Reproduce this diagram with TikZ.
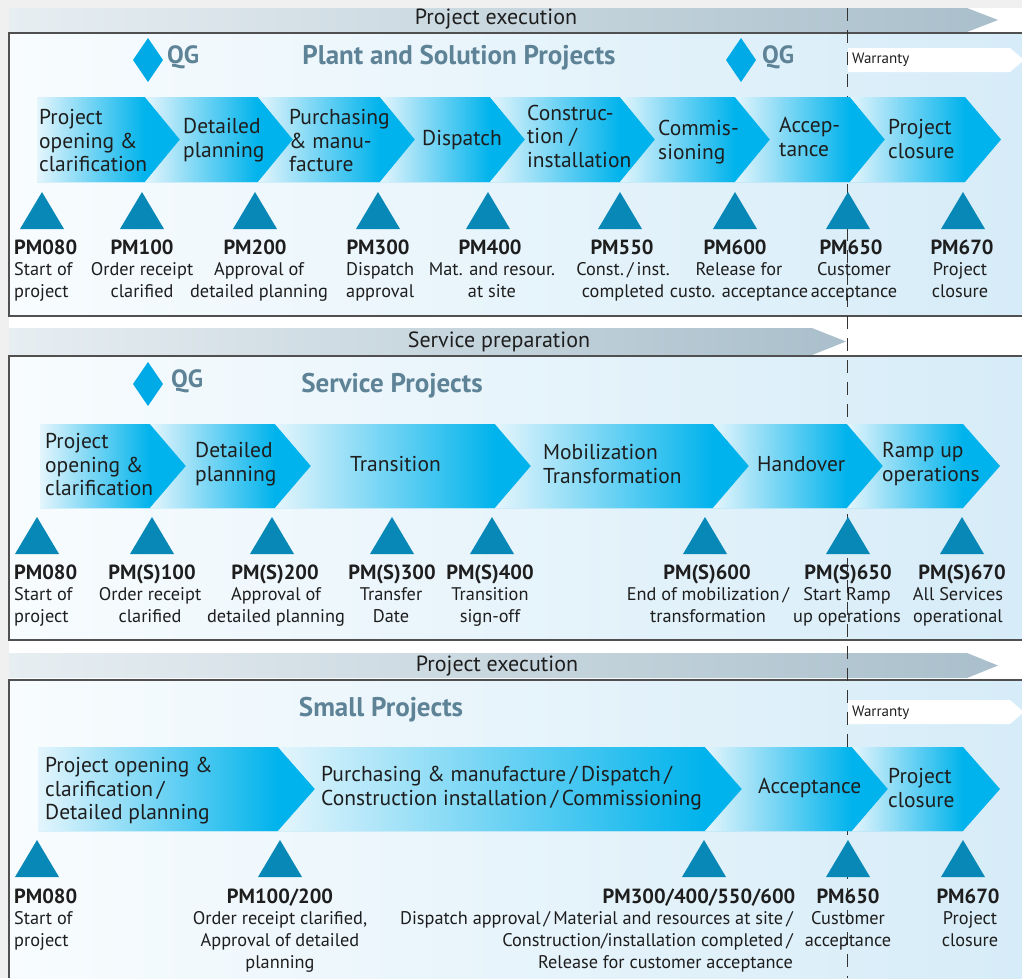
\documentclass[tikz,border=0pt]{standalone}
\usepackage{fontspec}
\setmainfont{PT Sans}
\usetikzlibrary{calc}
\definecolor{cyanA}{HTML}{00B3EC}
\definecolor{cyanL}{HTML}{E4F5FC}
\definecolor{cyanM}{HTML}{C4E9F9}
\definecolor{triC}{HTML}{0888B7}
\definecolor{diaC}{HTML}{00AAE7}
\definecolor{titleC}{HTML}{5E8397}
\definecolor{bgL}{HTML}{F8FCFE}
\definecolor{bgR}{HTML}{D6ECF8}
\definecolor{banL}{HTML}{E7EEF2}
\definecolor{banR}{HTML}{A9BFCB}
\definecolor{frameC}{HTML}{505050}
\definecolor{pageC}{HTML}{F0F0F0}
\definecolor{txtC}{HTML}{1E1E1E}
\tikzset{
 chevtext/.style={anchor=west, align=left, inner sep=0, font=\fontsize{21.5}{23.5}\selectfont, text=txtC},
 pmlabel/.style={inner sep=0, anchor=base, font=\bfseries\fontsize{20.5}{22}\selectfont, text=txtC},
 desc/.style={inner sep=0, anchor=north, align=center, font=\fontsize{18.3}{22}\selectfont, text=txtC},
 qgtext/.style={anchor=west, inner sep=0, font=\bfseries\fontsize{25}{26}\selectfont, text=titleC},
 titletext/.style={inner sep=0, font=\bfseries\fontsize{27}{28}\selectfont, text=titleC},
 bantext/.style={inner sep=0, font=\fontsize{22}{24}\selectfont, text=txtC},
 warrtext/.style={anchor=west, inner sep=0, font=\fontsize{15}{16}\selectfont, text=txtC},
 frameline/.style={draw=frameC, line width=1.3pt},
 dashline/.style={draw=black!80, line width=0.9pt, dash pattern=on 13pt off 9pt},
}
% chevron: x0, x1 (body end), ytop, ybot, notch depth, tip depth
\newcommand\mychev[6]{%
 \pgfmathsetmacro\cmid{(#3+#4)/2}%
 \begin{scope}
 \clip (#1,#3) -- (#2,#3) -- (#2+#6,\cmid) -- (#2,#4) -- (#1,#4) -- (#1+#5,\cmid) -- cycle;
 \fill[cyanA] (#1-1,#3-1) rectangle (#2+#6+1,#4+1);
 \shade[left color=cyanL, middle color=cyanM, right color=cyanA] (#1,#3-1) rectangle (#2,#4+1);
 \end{scope}}
% triangle: x centre, apex y
\newcommand\mytri[2]{\fill[triC] (#1,#2) -- (#1+22,#2+37) -- (#1-22,#2+37) -- cycle;}
% diamond: x centre, y centre
\newcommand\mydia[2]{\fill[diaC] (#1,#2-22) -- (#1+15,#2) -- (#1,#2+22) -- (#1-15,#2) -- cycle;}
% banner: ytop, ybot, body end, tip
\newcommand\myban[4]{%
 \pgfmathsetmacro\bmid{(#1+#2)/2}%
 \shade[left color=banL, right color=banR] (9,#1) -- (#3,#1) -- (#4,\bmid) -- (#3,#2) -- (9,#2) -- cycle;}
% warranty arrow: ytop, ybot
\newcommand\mywarr[2]{%
 \pgfmathsetmacro\wmid{(#1+#2)/2}%
 \fill[white] (848,#1) -- (1010,#1) -- (1024,\wmid) -- (1010,#2) -- (848,#2) -- cycle;}
\begin{document}
\begin{tikzpicture}[x=1pt,y=-1pt]
\useasboundingbox (0,0) rectangle (1022,978);
\fill[white] (0,0) rectangle (1022,978);
\fill[pageC] (0,0) rectangle (1022,8);
\fill[pageC] (0,0) rectangle (9,978);
% ---------- section 1 ----------
\myban{8}{32}{967}{998}
\shade[left color=bgL, right color=bgR] (9,33) rectangle (1022,316);
\draw[frameline] (1022,33) -- (9,33) -- (9,316) -- (1022,316);
% ---------- section 2 ----------
\myban{328}{355}{812}{846}
\shade[left color=bgL, right color=bgR] (9,356) rectangle (1022,640);
\draw[frameline] (1022,356) -- (9,356) -- (9,640) -- (1022,640);
% ---------- section 3 ----------
\myban{653}{678}{967}{998}
\shade[left color=bgL, right color=bgR] (9,680) rectangle (1022,978);
\draw[frameline] (1022,680) -- (9,680) -- (9,978);
% warranty arrows
\mywarr{48}{72}
\mywarr{700}{724}
% dashed boundary
\coordinate (dtop) at (847,8);
\coordinate (dbot) at (847,978);
\draw[dashline] (dtop) -- (dbot);
% banner texts
\node[bantext] (ban1) at (496,19) {Project execution};
\node[bantext] (ban2) at (499,342) {Service preparation};
\node[bantext] (ban3) at (497,666) {Project execution};
\node[warrtext] (w1) at (852,60) {Warranty};
\node[warrtext] (w3) at (852,713) {Warranty};
% titles and QG
\mydia{148}{60}
\node[qgtext] (qg1) at (167,57) {QG};
\mydia{741}{60}
\node[qgtext] (qg2) at (762,57) {QG};
\node[titletext] (t1) at (459,58) {Plant and Solution Projects};
\mydia{148}{384}
\node[qgtext] (qg3) at (171,381) {QG};
\node[titletext] (t2) at (392,386) {Service Projects};
\node[titletext] (t3) at (381,710) {Small Projects};
% ---------- chevrons section 1 ----------
\mychev{37}{145}{97}{182}{0}{35}
\mychev{145}{258}{97}{182}{35}{35}
\mychev{258}{380}{97}{182}{35}{35}
\mychev{380}{490}{97}{182}{35}{35}
\mychev{490}{620}{97}{182}{35}{35}
\mychev{620}{735}{97}{182}{35}{35}
\mychev{735}{850}{97}{182}{35}{35}
\mychev{850}{965}{97}{182}{35}{36}
\node[chevtext] (c1a) at (39,141) {Project\\opening \&\\clarification};
\node[chevtext] (c1b) at (183,140) {Detailed\\planning};
\node[chevtext] (c1c) at (289,141) {Purchasing\\\& manu-\\facture};
\node[chevtext] (c1d) at (422,140) {Dispatch};
\node[chevtext] (c1e) at (527,136) {Construc-\\tion /\\installation};
\node[chevtext] (c1f) at (658,142) {Commis-\\sioning};
\node[chevtext] (c1g) at (779,137) {Accep-\\tance};
\node[chevtext] (c1h) at (888,139) {Project\\closure};
% milestones section 1
\mytri{42}{192}\mytri{142}{192}\mytri{255}{192}\mytri{378}{192}\mytri{488}{192}
\mytri{620}{192}\mytri{735}{192}\mytri{848}{192}\mytri{963}{192}
\node[pmlabel, anchor=base west] (p1a) at (14,254) {PM080};
\node[pmlabel] (p1b) at (142,254) {PM100};
\node[pmlabel] (p1c) at (255,254) {PM200};
\node[pmlabel] (p1d) at (378,254) {PM300};
\node[pmlabel] (p1e) at (490,254) {PM400};
\node[pmlabel] (p1f) at (622,254) {PM550};
\node[pmlabel] (p1g) at (735,254) {PM600};
\node[pmlabel] (p1h) at (851,254) {PM650};
\node[pmlabel] (p1i) at (962,254) {PM670};
\node[desc, anchor=north west, align=left] (d1a) at (14,262) {Start of\\project};
\node[desc] (d1b) at (142,262) {Order receipt\\clarified};
\node[desc] (d1c) at (259,262) {Approval of\\detailed planning};
\node[desc, anchor=north west, align=left] (d1d) at (346,262) {Dispatch\\approval};
\node[desc] (d1e) at (492,262) {Mat. and resour.\\at site};
\node[desc] (d1f) at (623,262) {Const.\,/\,inst.\\completed};
\node[desc] (d1g) at (739,262) {Release for\\custo. acceptance};
\node[desc] (d1h) at (854,262) {Customer\\acceptance};
\node[desc] (d1i) at (960,262) {Project\\closure};
% ---------- chevrons section 2 ----------
\mychev{40}{150}{424}{508}{0}{36}
\mychev{150}{275}{424}{508}{36}{36}
\mychev{275}{495}{424}{508}{36}{36}
\mychev{495}{713}{424}{508}{36}{36}
\mychev{713}{847}{424}{508}{36}{36}
\mychev{847}{963}{424}{508}{36}{37}
\node[chevtext] (c2a) at (45,465) {Project\\opening \&\\clarification};
\node[chevtext] (c2b) at (195,464) {Detailed\\planning};
\node[chevtext] (c2c) at (350,464) {Transition};
\node[chevtext] (c2d) at (543,464) {Mobilization\\Transformation};
\node[chevtext] (c2e) at (757,464) {Handover};
\node[chevtext] (c2f) at (882,464) {Ramp up\\operations};
\mytri{37}{517}\mytri{152}{517}\mytri{272}{517}\mytri{392}{517}\mytri{492}{517}
\mytri{705}{517}\mytri{848}{517}\mytri{962}{517}
\node[pmlabel, anchor=base west] (p2a) at (14,579) {PM080};
\node[pmlabel] (p2b) at (152,579) {PM(S)100};
\node[pmlabel] (p2c) at (275,579) {PM(S)200};
\node[pmlabel] (p2d) at (392,579) {PM(S)300};
\node[pmlabel] (p2e) at (490,579) {PM(S)400};
\node[pmlabel] (p2f) at (707,579) {PM(S)600};
\node[pmlabel] (p2g) at (848,579) {PM(S)650};
\node[pmlabel] (p2h) at (962,579) {PM(S)670};
\node[desc, anchor=north west, align=left] (d2a) at (14,587) {Start of\\project};
\node[desc] (d2b) at (150,587) {Order receipt\\clarified};
\node[desc] (d2c) at (276,587) {Approval of\\detailed planning};
\node[desc] (d2d) at (391,587) {Transfer\\Date};
\node[desc] (d2e) at (490,587) {Transition\\sign-off};
\node[desc] (d2f) at (708,587) {End of mobilization\,/\\transformation};
\node[desc] (d2g) at (847,587) {Start Ramp\\up operations};
\node[desc] (d2h) at (958,587) {All Services\\operational};
% ---------- chevrons section 3 ----------
\mychev{38}{278}{747}{831}{0}{37}
\mychev{278}{705}{747}{831}{37}{37}
\mychev{705}{852}{747}{831}{37}{36}
\mychev{852}{963}{747}{831}{36}{37}
\node[chevtext] (c3a) at (45,791) {Project opening \&\\clarification\,/\\Detailed planning};
\node[chevtext] (c3b) at (321,788) {Purchasing \& manufacture\,/\,Dispatch\,/\\Construction installation\,/\,Commissioning};
\node[chevtext] (c3c) at (758,788) {Acceptance};
\node[chevtext] (c3d) at (888,788) {Project\\closure};
\mytri{37}{840}\mytri{280}{840}\mytri{704}{840}\mytri{848}{840}\mytri{963}{840}
\node[pmlabel, anchor=base west] (p3a) at (14,903) {PM080};
\node[pmlabel] (p3b) at (280,903) {PM100/200};
\node[pmlabel] (p3c) at (699,903) {PM300/400/550/600};
\node[pmlabel] (p3d) at (848,903) {PM650};
\node[pmlabel] (p3e) at (968,903) {PM670};
\node[desc, anchor=north west, align=left] (d3a) at (14,911) {Start of\\project};
\node[desc] (d3b) at (280,911) {Order receipt clarified,\\Approval of detailed\\planning};
\node[desc, anchor=north east, align=right] (d3c) at (793,911) {Dispatch approval\,/\,Material and resources at site\,/\\Construction/installation completed\,/\\Release for customer acceptance};
\node[desc] (d3d) at (848,911) {Customer\\acceptance};
\node[desc] (d3e) at (970,911) {Project\\closure};
\end{tikzpicture}
\end{document}
